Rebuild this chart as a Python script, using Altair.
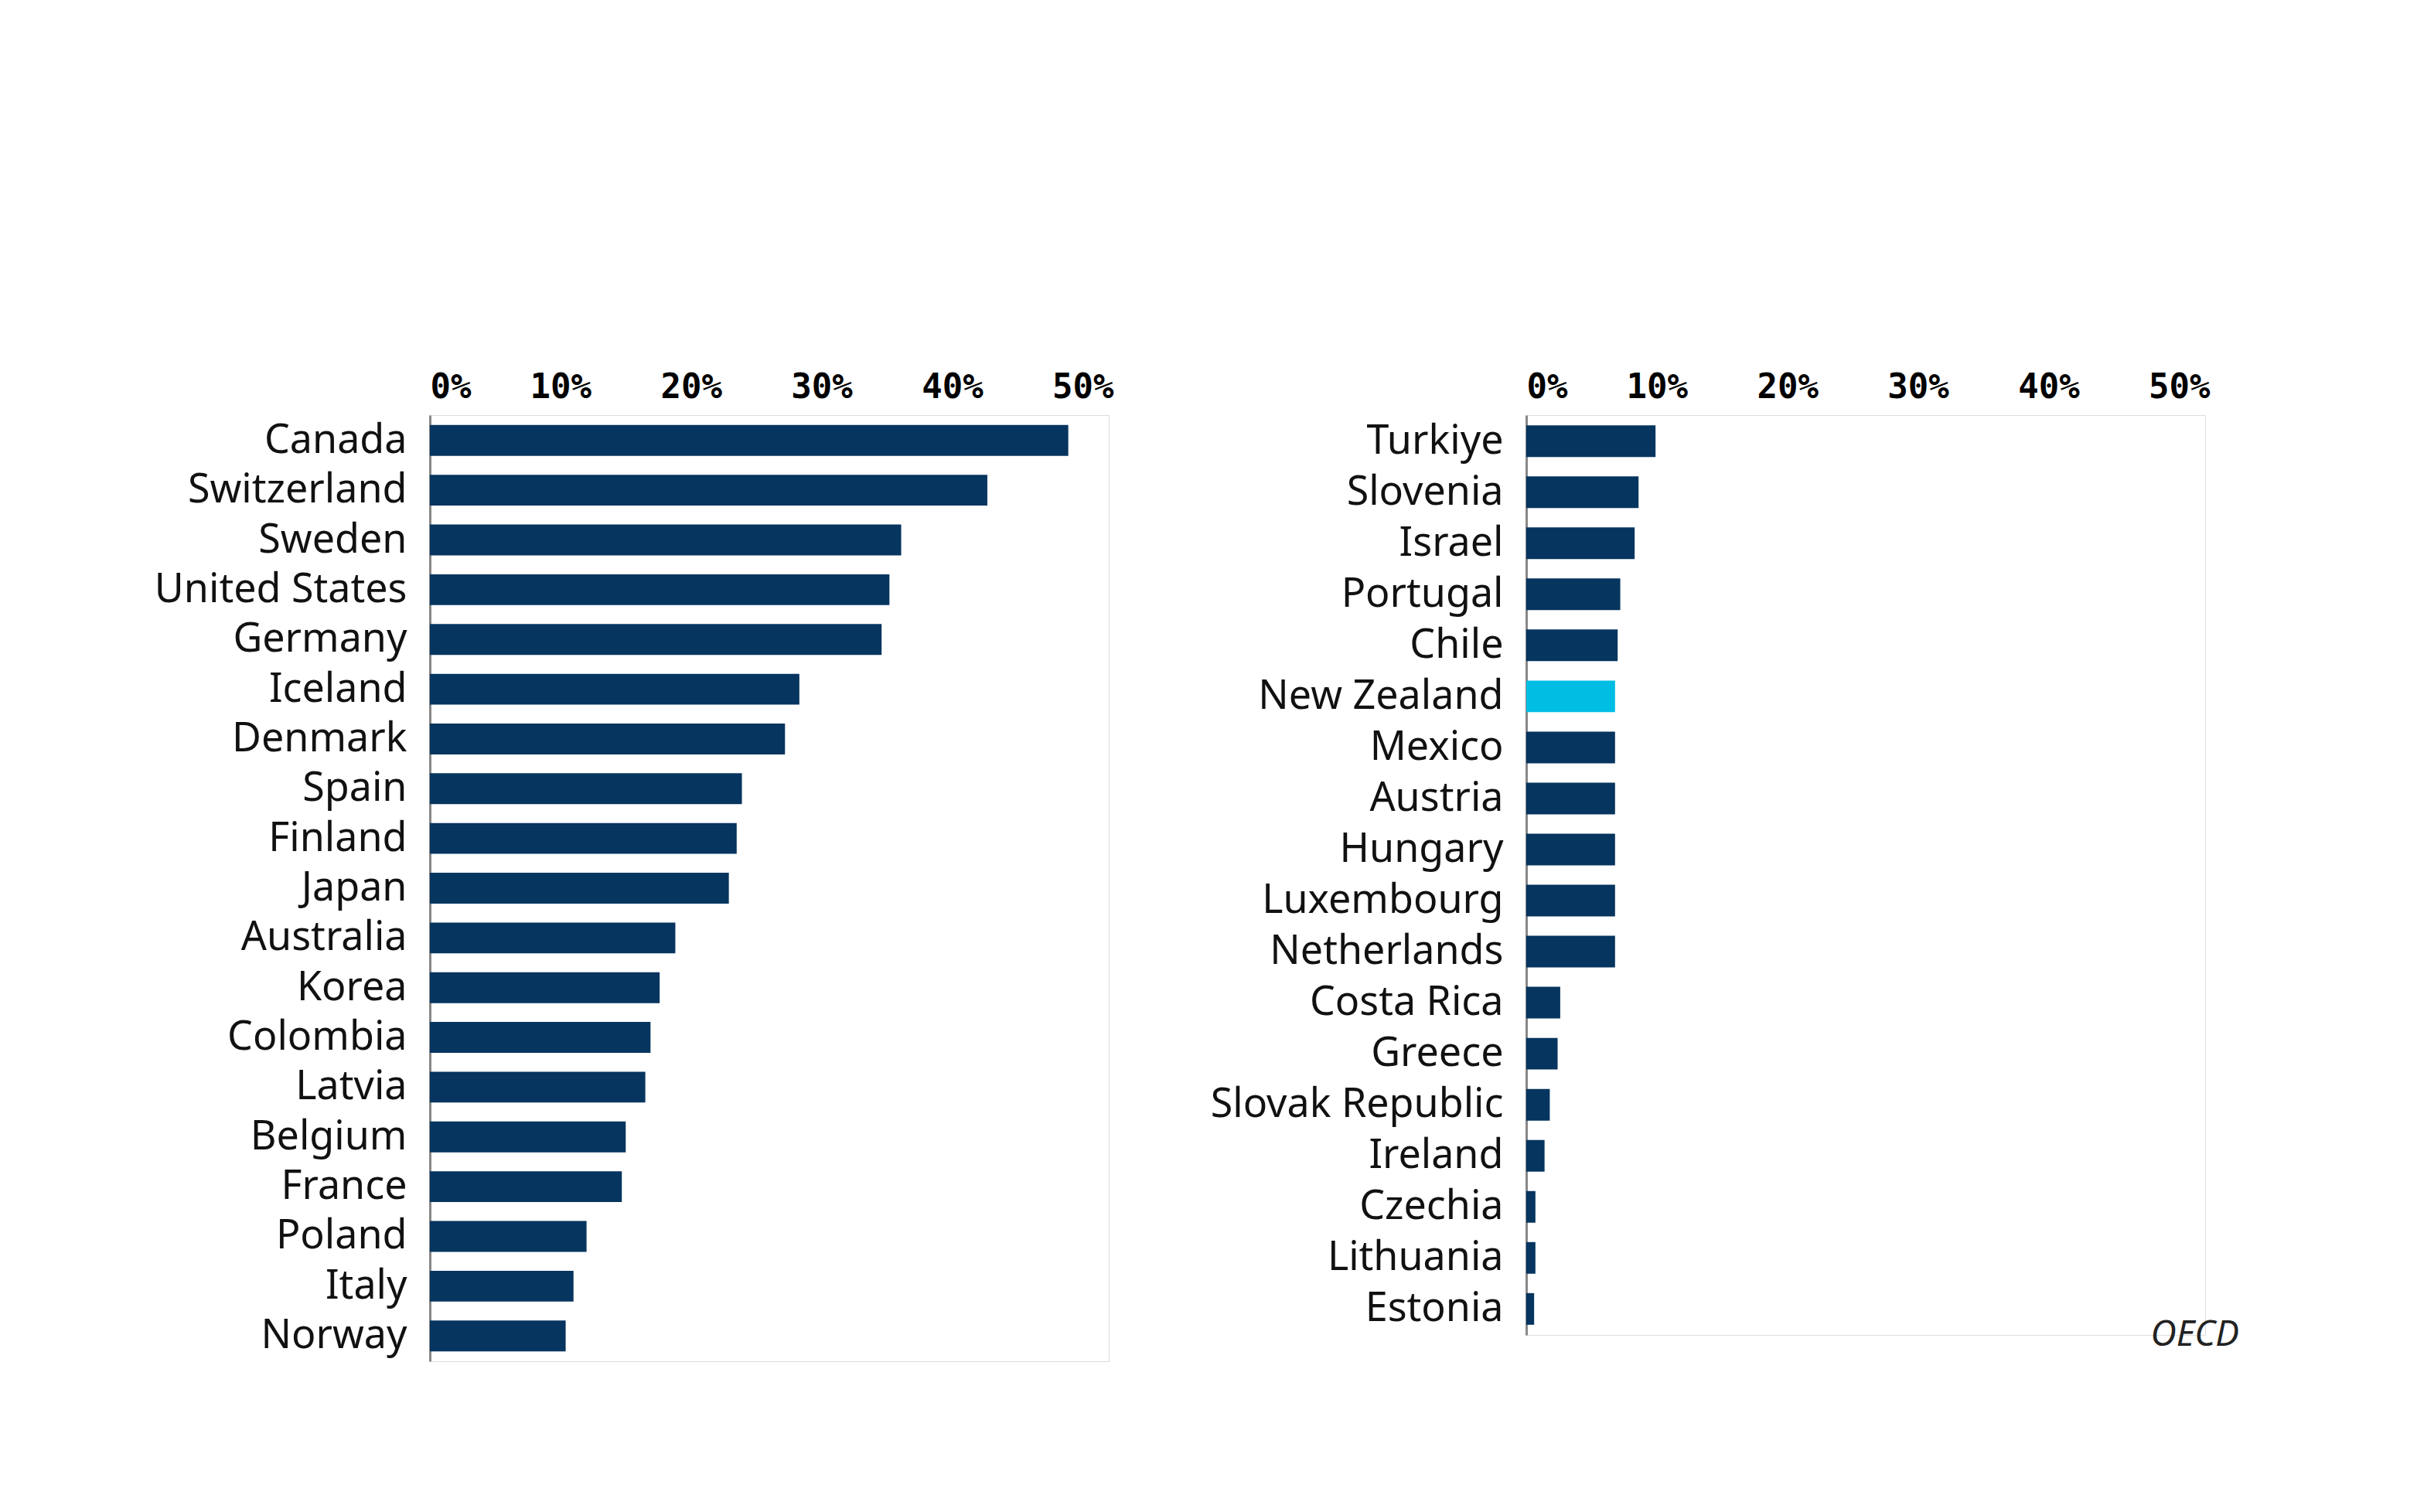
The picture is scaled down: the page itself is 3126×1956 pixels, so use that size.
import altair as alt
import pandas as pd

left_countries = ["Canada", "Switzerland", "Sweden", "United States", "Germany", "Iceland",
                  "Denmark", "Spain", "Finland", "Japan", "Australia", "Korea", "Colombia",
                  "Latvia", "Belgium", "France", "Poland", "Italy", "Norway"]
left_values = [0.489, 0.427, 0.361, 0.352, 0.346, 0.283, 0.272, 0.239, 0.235, 0.229,
               0.188, 0.176, 0.169, 0.165, 0.150, 0.147, 0.120, 0.110, 0.104]

right_countries = ["Turkiye", "Slovenia", "Israel", "Portugal", "Chile", "New Zealand",
                   "Mexico", "Austria", "Hungary", "Luxembourg", "Netherlands", "Costa Rica",
                   "Greece", "Slovak Republic", "Ireland", "Czechia", "Lithuania", "Estonia"]
right_values = [0.099, 0.086, 0.083, 0.072, 0.070, 0.068, 0.068, 0.068, 0.068, 0.068,
                0.068, 0.026, 0.024, 0.018, 0.014, 0.007, 0.007, 0.006]

NAVY = "#06355f"
CYAN = "#00bde3"


def panel(countries, values, height, min_extent=None):
    df = pd.DataFrame({"country": countries, "value": values})
    df["hl"] = df["country"] == "New Zealand"
    yaxis = dict(title=None, domain=True, domainColor="#888888", domainWidth=3, ticks=False,
                 labelFont="Noto Sans", labelFontSize=52, labelColor="#111111",
                 labelPadding=30, labelLimit=800)
    if min_extent:
        yaxis["minExtent"] = min_extent
    bars = (
        alt.Chart(df)
        .mark_bar()
        .encode(
            x=alt.X("value:Q", scale=alt.Scale(domain=[0, 0.52], nice=False),
                    axis=alt.Axis(orient="top", format=".0%", values=[0, 0.1, 0.2, 0.3, 0.4, 0.5],
                                  title=None, domain=False, ticks=False, grid=False,
                                  labelFont="DejaVu Sans Mono", labelFontWeight="bold",
                                  labelFontSize=44, labelColor="#000000", labelPadding=14)),
            y=alt.Y("country:N", sort=countries,
                    scale=alt.Scale(paddingInner=0.38, paddingOuter=0.2),
                    axis=alt.Axis(**yaxis)),
            color=alt.condition(alt.datum.hl, alt.value(CYAN), alt.value(NAVY)),
        )
        .properties(width=878, height=height)
    )
    return bars


left = panel(left_countries, left_values, 1224)
right_bars = panel(right_countries, right_values, 1190, min_extent=440)
source = (
    alt.Chart(pd.DataFrame({"t": ["OECD"]}))
    .mark_text(font="Noto Sans", fontStyle="italic", fontSize=46, align="right",
               baseline="middle", color="#222222")
    .encode(text="t:N", x=alt.value(922), y=alt.value(1190))
)
right = alt.layer(right_bars, source)

chart = (
    alt.hconcat(left, right, spacing=92)
    .properties(padding={"left": 190, "top": 470, "right": 40, "bottom": 150})
    .configure_view(stroke=None)
    .configure(background="white")
)

chart.save("out.html", embed_options={"renderer": "svg", "actions": False})
